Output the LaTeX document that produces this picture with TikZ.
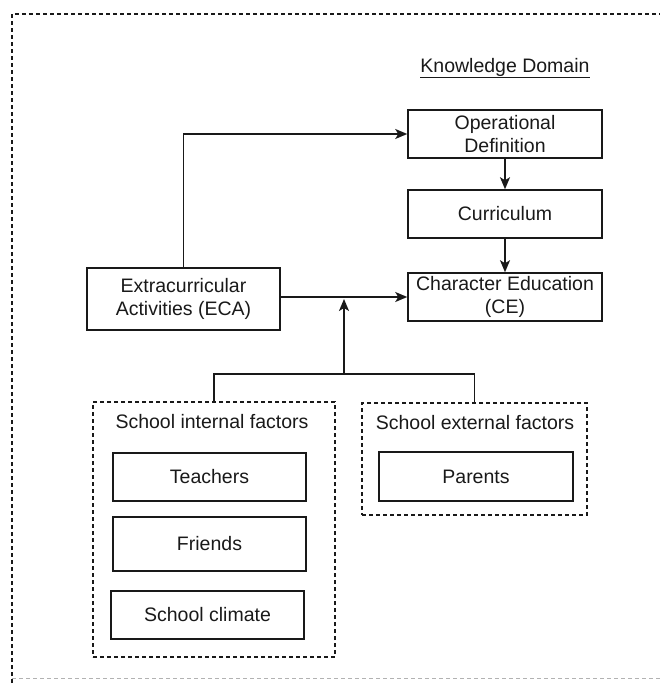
\documentclass[tikz,border=0pt]{standalone}
\usepackage{fontspec}
\setmainfont{Liberation Sans}
\usetikzlibrary{arrows.meta}
\begin{document}
\begin{tikzpicture}[x=1pt,y=-1pt,
  every node/.style={font=\fontsize{19.5}{23.5}\selectfont, text=black!90, inner sep=0pt, align=center},
  box/.style={draw=black!90, line width=1.5pt, rectangle},
  group/.style={draw=black!90, line width=1.3pt, dash pattern=on 4pt off 3pt, rectangle},
  conn/.style={draw=black!90, line width=1.5pt},
  arr/.style={conn, -{Stealth[length=12pt,width=10pt,inset=3pt]}}]
\useasboundingbox (0,0) rectangle (659,684);
% outer border
\draw[black!90, line width=1.3pt, dash pattern=on 4pt off 3pt] (12,690) -- (12,14) -- (670,14);
\draw[black!30, line width=1pt, dash pattern=on 4pt off 3pt] (12,678) -- (670,678);
% title
\node (kd) at (505,68) {\underline{Knowledge Domain}};
% main boxes
\node[box, minimum width=194pt, minimum height=48pt] (od) at (505,134) {Operational\\Definition};
\node[box, minimum width=194pt, minimum height=48pt] (cur) at (505,214) {Curriculum};
\node[box, minimum width=194pt, minimum height=48pt] (ce) at (505,297) {Character Education\\(CE)};
\node[box, minimum width=193pt, minimum height=62pt] (eca) at (183.5,299) {Extracurricular\\Activities (ECA)};
% groups
\node[group, minimum width=242pt, minimum height=255pt] (int) at (214,529.5) {};
\node (intl) at (212,422) {School internal factors};
\node[box, minimum width=193pt, minimum height=48pt] (tea) at (209.5,477) {Teachers};
\node[box, minimum width=193pt, minimum height=54pt] (fri) at (209.5,544) {Friends};
\node[box, minimum width=193pt, minimum height=48pt] (sc) at (207.5,615) {School climate};
\node[group, minimum width=225pt, minimum height=112pt] (ext) at (474.5,459) {};
\node (extl) at (475,423) {School external factors};
\node[box, minimum width=194pt, minimum height=49pt] (par) at (476,476.5) {Parents};
% connectors
\coordinate (j) at (344,299);
\coordinate (bus) at (344,374);
\draw[arr] (eca.north) |- (od.west);
\draw[arr] (od.south) -- (cur.north);
\draw[arr] (cur.south) -- (ce.north);
\draw[arr] (eca.east |- ce.west) -- (ce.west);
\draw[conn] (int.north) |- (bus);
\draw[conn] (ext.north) |- (bus);
\draw[arr] (bus) -- (j);
\end{tikzpicture}
\end{document}
